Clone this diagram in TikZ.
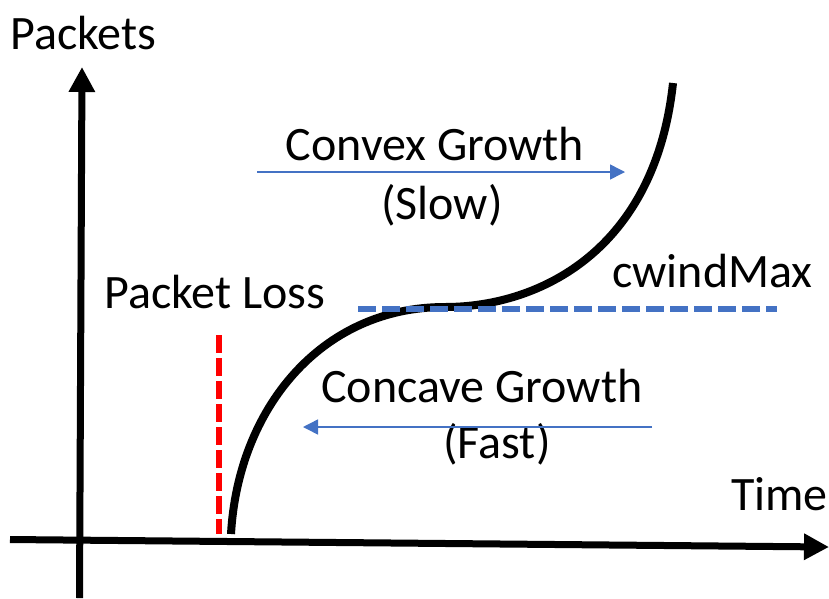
\documentclass[tikz,border=0pt]{standalone}
\usepackage{fontspec}
\setmainfont{Carlito}
\usetikzlibrary{arrows.meta}
\definecolor{growblue}{RGB}{68,114,196}
\tikzset{
	axisline/.style={line width=7pt,-{Triangle[length=25pt,width=25pt]}},
	lbl/.style={font=\fontsize{48}{56}\selectfont,inner sep=0pt},
	growarrow/.style={growblue,line width=1.5pt,-{Triangle[length=15pt,width=15pt]}},
}
\begin{document}
\begin{tikzpicture}[x=1pt,y=-1pt]
			\useasboundingbox (0,0) rectangle (829,598);
			% axes
			\coordinate (ybot) at (79.5,598);
			\coordinate (ytop) at (82,67);
			\coordinate (xleft) at (10,539.5);
			\coordinate (xright) at (829,547);
			\draw[axisline] (ybot)--(ytop);
			\draw[axisline] (xleft)--(xright);
			\node[lbl,anchor=base west] (packets) at (10,49) {Packets};
			\node[lbl,anchor=base west] (time) at (731,510) {Time};
			% curve: concave up to cwindMax, then convex
			\draw[line width=8pt] (231,534) .. controls (238,410) and (320,307) .. (445,307)
				.. controls (540,307) and (655,250) .. (673,83);
			\draw[red,line width=5.5pt,dash pattern=on 18pt off 5pt] (219,335)--(219,534);
			\draw[growblue,line width=5.5pt,dash pattern=on 18pt off 6pt] (358,309)--(777,309);
			\node[lbl,anchor=base west] (loss) at (104,308) {Packet Loss};
			\node[lbl,anchor=base west] (cwnd) at (612,287) {cwindMax};
			% growth labels
			\node[lbl,anchor=base] (convex) at (435,160) {Convex Growth};
			\node[lbl,anchor=base] (slow) at (442,219) {(Slow)};
			\node[lbl,anchor=base] (concave) at (482,402) {Concave Growth};
			\node[lbl,anchor=base] (fast) at (497,458) {(Fast)};
			\coordinate (cvxa) at (257,172);
			\coordinate (cvxb) at (625,172);
			\coordinate (ccva) at (652,427);
			\coordinate (ccvb) at (303,427);
			\draw[growarrow] (cvxa)--(cvxb);
			\draw[growarrow] (ccva)--(ccvb);
	\end{tikzpicture}
\end{document}
